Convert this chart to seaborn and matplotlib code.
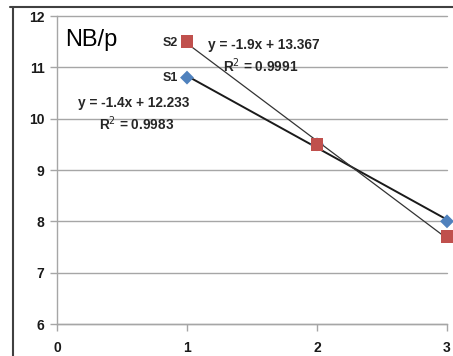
import numpy as np
import pandas as pd
import matplotlib
matplotlib.use("Agg")
import matplotlib.pyplot as plt
import seaborn as sns

x_vals = [1, 2, 3]
s1_vals = [10.8, 9.5, 8.0]
s2_vals = [11.5, 9.5, 7.7]
series_names = ["S1", "S2"]
x_ticks = [0, 1, 2, 3]
y_ticks = [6, 7, 8, 9, 10, 11, 12]
title_text = "NB/p"

sns.set_theme(style="white")
plt.rcParams['font.family'] = ['Liberation Sans', 'DejaVu Sans']

df = pd.DataFrame({
    "x": x_vals * 2,
    "y": s1_vals + s2_vals,
    "series": [series_names[0]] * 3 + [series_names[1]] * 3,
})

fig = plt.figure(figsize=(4.53, 3.56), dpi=100)
ax = fig.add_axes([57/453, 1 - 324/356, 390/453, 308/356])

grid_c = "#a6a6a6"
for yt in y_ticks:
    ax.axhline(yt, color=grid_c, lw=1.0, zorder=0, clip_on=False)

# trendlines
fits = {}
for name, vals, col, lw in [("S1", s1_vals, "#1a1a1a", 1.4), ("S2", s2_vals, "#333333", 0.9)]:
    m, b = np.polyfit(x_vals, vals, 1)
    pred = np.polyval([m, b], x_vals)
    r2 = 1 - np.sum((np.array(vals) - pred) ** 2) / np.sum((np.array(vals) - np.mean(vals)) ** 2)
    fits[name] = (m, b, r2)
    tl = pd.DataFrame({"x": x_vals, "y": pred})
    sns.lineplot(data=tl, x="x", y="y", ax=ax, color=col, lw=lw, zorder=2)

palette = {"S1": "#4f81bd", "S2": "#c0504d"}
markers = {"S1": "D", "S2": "s"}
sizes = {"S1": 50, "S2": 85}
for name in series_names:
    sub = df[df.series == name]
    ax.scatter(sub.x, sub.y, marker=markers[name], s=sizes[name],
               color=palette[name], edgecolors="none", zorder=3, clip_on=False)

ax.set_xlim(0, 3)
ax.set_ylim(6, 12)
ax.set_xticks(x_ticks)
ax.set_yticks(y_ticks)
ax.set_xticklabels([str(t) for t in x_ticks], fontsize=10, fontweight="bold", color="#1a1a1a")
ax.set_yticklabels([str(t) for t in y_ticks], fontsize=10, fontweight="bold", color="#1a1a1a")
ax.tick_params(axis="y", which="both", length=5, width=1, color=grid_c, direction="out",
               left=True, pad=4)
ax.tick_params(axis="x", which="both", length=5, width=1, color=grid_c, direction="out",
               bottom=True, pad=7)
ax.set_xlabel("")
ax.set_ylabel("")
for side in ["top", "right"]:
    ax.spines[side].set_visible(False)
ax.spines["left"].set_color(grid_c)
ax.spines["bottom"].set_color(grid_c)
ax.spines["left"].set_linewidth(1.0)
ax.spines["bottom"].set_linewidth(1.0)
if ax.get_legend():
    ax.get_legend().remove()

# outer border (top and left dark lines)
fig.add_artist(plt.Line2D([10/453, 1], [1 - 7/356, 1 - 7/356], transform=fig.transFigure, color="#404040", lw=1.5))
fig.add_artist(plt.Line2D([13/453, 13/453], [0, 1 - 7/356], transform=fig.transFigure, color="#404040", lw=1.5))

ax.text(0.06, 11.53, title_text, fontsize=17, color="black", ha="left", va="center")

ax.text(0.93, 11.48, "S2", fontsize=9, fontweight="bold", ha="right", va="center")
ax.text(0.93, 10.8, "S1", fontsize=9, fontweight="bold", ha="right", va="center")

m, b, r2 = fits["S2"]
ax.text(1.59, 11.43, f"y = {m:.1f}x + {b:.3f}", fontsize=9.8, fontweight="bold", ha="center", va="center")
ax.text(1.57, 11.04, f"R$^2$ = {r2:.4f}", fontsize=9.8, fontweight="bold", ha="center", va="center")
m, b, r2 = fits["S1"]
ax.text(0.59, 10.3, f"y = {m:.1f}x + {b:.3f}", fontsize=9.8, fontweight="bold", ha="center", va="center")
ax.text(0.61, 9.91, f"R$^2$ = {r2:.4f}", fontsize=9.8, fontweight="bold", ha="center", va="center")

fig.savefig("out.png", dpi=100, facecolor="white")
